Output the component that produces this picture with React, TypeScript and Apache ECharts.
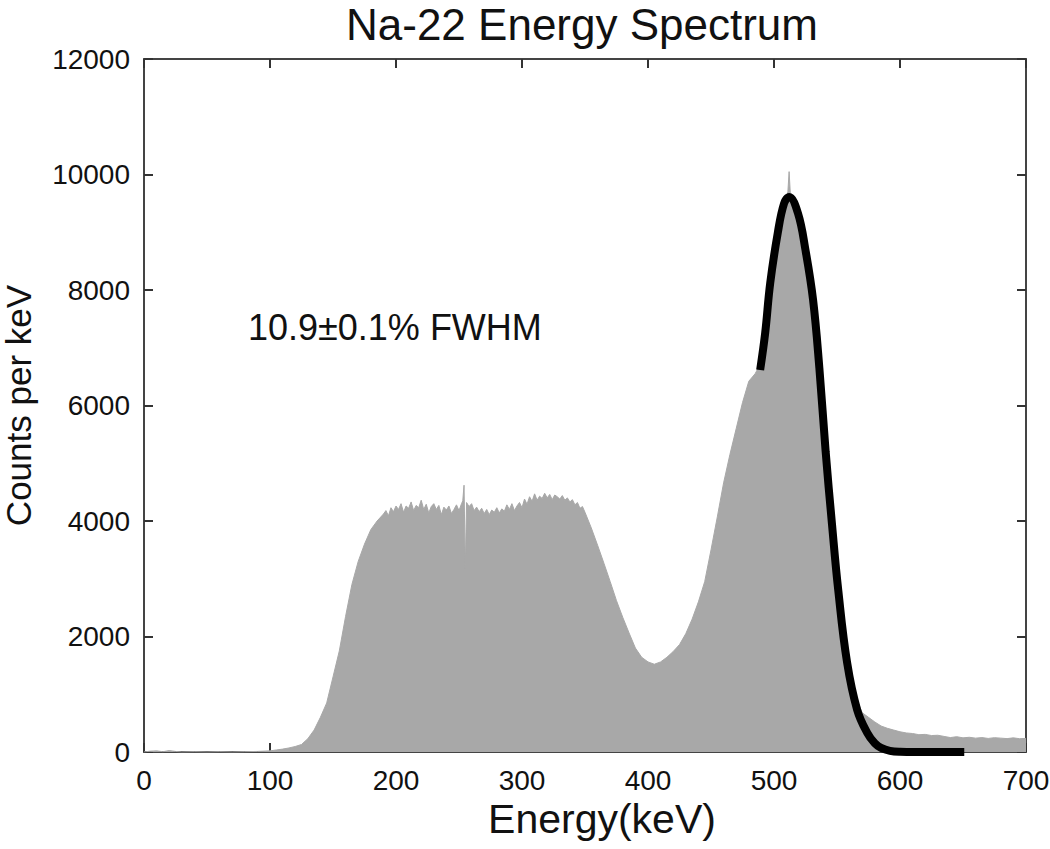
import React, { useEffect, useRef } from "react";
import * as echarts from "echarts";

// Measured histogram (Energy in keV, counts per keV)
const histEnergy = [
  0, 5, 10, 15, 20, 25, 30, 40, 50, 60, 70, 80, 90, 100, 105, 110, 115, 120, 125, 130,
  135, 140, 145, 150, 155, 160, 165, 170, 175, 180, 185,
  190, 192, 194, 196, 198, 200, 202, 204, 206, 208, 210, 212, 214, 216, 218, 220, 222, 224, 226, 228,
  230, 232, 234, 236, 238, 240, 242, 244, 246, 248, 250, 252, 253, 254, 255, 256, 258, 260, 262, 264,
  266, 268, 270, 272, 274, 276, 278, 280, 282, 284, 286, 288, 290, 292, 294, 296, 298, 300, 302, 304,
  306, 308, 310, 312, 314, 316, 318, 320, 322, 324, 326, 328, 330, 332, 334, 336, 338, 340, 342, 344,
  346, 348, 350, 355, 360, 365, 370, 375, 380, 385,
  390, 395, 400, 405, 410, 415, 420, 425, 430, 435, 440, 445, 450, 455, 460, 465, 470, 475,
  480, 485, 490, 495, 500, 505, 510, 511, 512, 513, 515, 520, 525, 530, 535, 540, 545, 550,
  555, 560, 565, 570, 575, 580, 585, 590, 595, 600, 605, 610, 615, 620, 625, 630, 635, 640, 645, 650,
  655, 660, 665, 670, 675, 680, 685, 690, 695, 700,
];
const histCounts = [
  0, 15, 20, 5, 25, 10, 0, 5, 0, 5, 0, 5, 10, 20, 35, 50, 70, 95, 130, 230,
  380, 600, 850, 1300, 1750, 2350, 2900, 3300, 3600, 3850, 4000,
  4120, 4180, 4090, 4230, 4160, 4260, 4200, 4300, 4150, 4260, 4220, 4330, 4180, 4270, 4230, 4360, 4200, 4290, 4140, 4250,
  4300, 4200, 4270, 4110, 4240, 4190, 4260, 4130, 4200, 4280, 4180, 4300, 4350, 4620, 3180, 4320, 4250, 4300, 4180, 4240,
  4160, 4220, 4130, 4200, 4110, 4190, 4150, 4230, 4140, 4210, 4170, 4280, 4200, 4300, 4180, 4260, 4320, 4230, 4380, 4290,
  4420, 4340, 4470, 4360, 4430, 4390, 4480, 4400, 4460, 4370, 4450, 4420, 4380, 4440, 4360, 4400, 4330, 4370, 4280, 4320,
  4220, 4250, 4150, 3880, 3580, 3270, 2950, 2620, 2330, 2060,
  1800, 1640, 1560, 1520, 1560, 1640, 1740, 1860, 2050, 2300, 2600, 2950, 3500, 4070, 4660, 5150, 5600, 6050,
  6420, 6550, 6750, 7600, 8500, 9200, 9600, 9700, 10050, 9650, 9500, 9250, 8650, 7950, 6700, 5300, 4100, 2950,
  2000, 1300, 950, 680, 600, 520, 450, 410, 380, 350, 330, 320, 300, 305, 285, 290, 270, 250, 265, 245,
  255, 240, 250, 235, 248, 240, 232, 245, 230, 235,
];

// Fitted peak curve
const fitEnergy = [489, 493, 497, 503, 508, 512, 519, 525, 531, 536, 541, 546, 551, 558, 566, 574, 580, 585, 592, 600, 625, 651];
const fitCounts = [6615, 7255, 8120, 8990, 9500, 9610, 9330, 8690, 7830, 6650, 5200, 3950, 2800, 1550, 730, 330, 150, 70, 20, 5, 0, 0];

const xTicks = { min: 0, max: 700, interval: 100 };
const yTicks = { min: 0, max: 12000, interval: 2000 };

const FONT = "Liberation Sans, Arial, Helvetica, sans-serif";

export default function App() {
  const ref = useRef<HTMLDivElement>(null);
  useEffect(() => {
    if (!ref.current) return;
    const chart = echarts.init(ref.current, undefined, { renderer: "svg" });
    const axisLine = () => ({ show: true, onZero: false, lineStyle: { color: "#444", width: 2 } });
    const tick = () => ({ show: true, inside: true, length: 9, lineStyle: { color: "#333", width: 2 } });
    const hist = histEnergy.map((e, i) => [e, histCounts[i]]);
    const fit = fitEnergy.map((e, i) => [e, fitCounts[i]]);
    const plain = (v: number) => String(v);
    chart.setOption({
      animation: false,
      backgroundColor: "#ffffff",
      textStyle: { fontFamily: FONT },
      title: {
        text: "Na-22 Energy Spectrum",
        left: 582,
        top: 2,
        padding: 0,
        textAlign: "center",
        textStyle: { fontSize: 44, fontWeight: "normal", color: "#111", fontFamily: FONT },
      },
      grid: { left: 144, right: 24, top: 59, bottom: 97, containLabel: false, outerBoundsMode: "none" },
      xAxis: [
        {
          type: "value",
          position: "bottom",
          ...xTicks,
          name: "Energy(keV)",
          nameLocation: "middle",
          nameGap: 26,
          nameTextStyle: { fontSize: 41, color: "#111", fontFamily: FONT, padding: [0, 0, 0, 34] },
          axisLine: axisLine(),
          axisTick: tick(),
          axisLabel: { fontSize: 28, color: "#111", margin: 14, fontFamily: FONT, formatter: plain },
          splitLine: { show: false },
        },
        {
          type: "value",
          position: "top",
          ...xTicks,
          axisLine: axisLine(),
          axisTick: tick(),
          axisLabel: { show: false },
          splitLine: { show: false },
        },
      ],
      yAxis: [
        {
          type: "value",
          position: "left",
          ...yTicks,
          name: "Counts per keV",
          nameLocation: "middle",
          nameGap: 108,
          nameTextStyle: { fontSize: 35, color: "#111", fontFamily: FONT },
          axisLine: axisLine(),
          axisTick: tick(),
          axisLabel: { fontSize: 28, color: "#111", margin: 14, fontFamily: FONT, formatter: plain },
          splitLine: { show: false },
        },
        {
          type: "value",
          position: "right",
          ...yTicks,
          axisLine: axisLine(),
          axisTick: tick(),
          axisLabel: { show: false },
          splitLine: { show: false },
        },
      ],
      series: [
        {
          name: "Spectrum",
          type: "line",
          data: hist,
          xAxisIndex: 0,
          yAxisIndex: 0,
          showSymbol: false,
          symbol: "none",
          lineStyle: { width: 1, color: "#a8a8a8" },
          areaStyle: { color: "#a8a8a8", opacity: 1 },
          z: 1,
        },
        {
          name: "Fit",
          type: "line",
          data: fit,
          xAxisIndex: 0,
          yAxisIndex: 0,
          showSymbol: false,
          symbol: "none",
          smooth: 0.4,
          lineStyle: { width: 8, color: "#000" },
          z: 3,
        },
      ],
      graphic: [
        {
          type: "text",
          left: 248,
          top: 309,
          style: { text: "10.9±0.1% FWHM", fontSize: 36, fill: "#111", fontFamily: FONT },
        },
      ],
    });
    return () => chart.dispose();
  }, []);
  return (
    <div
      ref={ref}
      style={{ position: "absolute", left: 0, top: 0, width: 1050, height: 849 }}
    />
  );
}
